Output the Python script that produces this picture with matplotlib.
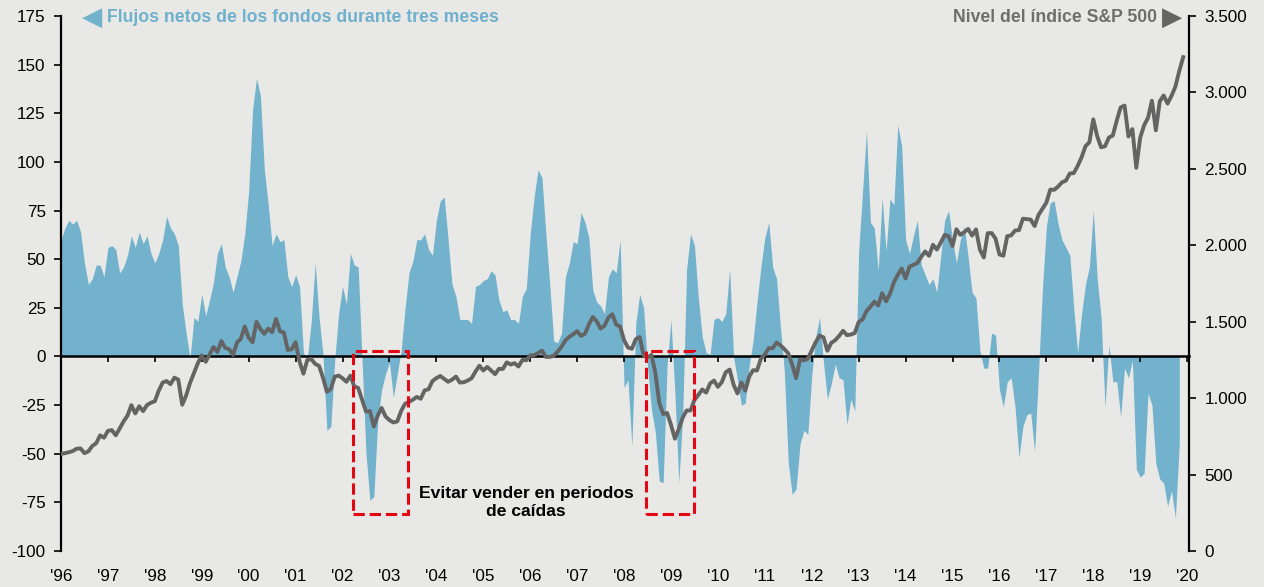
import matplotlib.pyplot as plt
from matplotlib.patches import Rectangle
from matplotlib.ticker import FuncFormatter
import numpy as np

plt.rcParams['font.family'] = ['Liberation Sans', 'DejaVu Sans']
plt.rcParams['axes.unicode_minus'] = False

# net fund flows over three months (left axis), monthly from Jan 1996 to Nov 2019
fund_flows = [
    60, 66, 70, 68, 70, 64, 48, 37, 40, 47, 47, 41,          # 1996
    56, 57, 55, 43, 46, 52, 62, 56, 64, 58, 62, 53,          # 1997
    48, 53, 60, 72, 66, 63, 57, 27, 12, -1, 20, 18,          # 1998
    32, 21, 29, 38, 53, 58, 46, 41, 33, 41, 49, 63,          # 1999
    85, 127, 143, 134, 96, 78, 57, 63, 59, 60, 41, 36,       # 2000
    42, 36, 2, -1, 18, 48, 20, 1, -38, -36, -2, 22,          # 2001
    36, 27, 53, 47, 46, -2, -50, -74, -72, -33, -17, -9,     # 2002
    -3, -21, -9, 3, 25, 43, 49, 60, 60, 63, 55, 52,          # 2003
    70, 80, 82, 60, 37, 31, 19, 19, 19, 17, 36, 37,          # 2004
    39, 40, 44, 42, 29, 23, 24, 19, 19, 17, 31, 35,          # 2005
    63, 82, 96, 92, 63, 37, 8, 7, 12, 41, 48, 59,            # 2006
    58, 74, 69, 61, 34, 28, 26, 22, 41, 45, 43, 60,          # 2007
    -16, -12, -46, 17, 32, 25, -5, -27, -39, -64, -65, -5,   # 2008
    19, -19, -65, -30, 45, 63, 57, 30, 10, 2, 1, 19,         # 2009
    20, 18, 22, 45, 0, -12, -25, -24, -5, 8, 28, 46,         # 2010
    61, 69, 46, 40, 15, -8, -55, -71, -68, -45, -38, -40,    # 2011
    -10, 10, 20, -3, -22, -14, -4, -11, -12, -35, -22, -28,  # 2012
    54, 85, 116, 69, 66, 44, 82, 54, 81, 78, 119, 108,       # 2013
    60, 53, 62, 70, 47, 42, 37, 40, 33, 52, 70, 75,          # 2014
    60, 48, 60, 67, 51, 33, 30, 3, -6, -6, 12, 11,           # 2015
    -17, -26, -13, -11, -26, -52, -36, -30, -29, -49, -8, 35,  # 2016
    67, 79, 80, 68, 60, 56, 52, 25, 2, 22, 37, 46,           # 2017
    75, 40, 20, -26, 6, -13, -13, -31, -6, -11, -2, -58,     # 2018
    -62, -60, -19, -25, -55, -63, -65, -77, -69, -83, -45,   # 2019
]

# S&P 500 index level (right axis), monthly close from Jan 1996 to Dec 2019
sp500 = [
    636, 640, 646, 654, 669, 671, 640, 652, 687, 705, 757, 741,            # 1996
    786, 791, 757, 801, 848, 885, 954, 900, 947, 915, 955, 970,            # 1997
    980, 1049, 1102, 1112, 1091, 1134, 1121, 957, 1017, 1099, 1164, 1229,  # 1998
    1280, 1238, 1286, 1335, 1302, 1373, 1329, 1320, 1283, 1363, 1389, 1469,  # 1999
    1395, 1366, 1499, 1452, 1421, 1455, 1431, 1518, 1437, 1429, 1315, 1320,  # 2000
    1366, 1240, 1160, 1250, 1256, 1224, 1211, 1134, 1041, 1060, 1140, 1148,  # 2001
    1130, 1107, 1147, 1077, 1067, 990, 912, 916, 815, 886, 936, 880,       # 2002
    856, 841, 848, 917, 964, 975, 990, 1008, 996, 1051, 1058, 1112,        # 2003
    1131, 1145, 1126, 1107, 1121, 1141, 1102, 1104, 1115, 1130, 1174, 1212,  # 2004
    1181, 1204, 1181, 1157, 1192, 1191, 1234, 1220, 1229, 1207, 1250, 1248,  # 2005
    1280, 1281, 1295, 1311, 1270, 1270, 1277, 1304, 1336, 1378, 1401, 1418,  # 2006
    1438, 1407, 1421, 1482, 1531, 1503, 1455, 1474, 1527, 1549, 1481, 1468,  # 2007
    1379, 1331, 1323, 1386, 1400, 1280, 1267, 1283, 1166, 969, 896, 903,   # 2008
    826, 735, 798, 873, 919, 919, 988, 1021, 1057, 1036, 1096, 1115,       # 2009
    1074, 1105, 1169, 1187, 1089, 1031, 1102, 1049, 1141, 1183, 1181, 1258,  # 2010
    1286, 1327, 1326, 1364, 1345, 1321, 1292, 1219, 1131, 1253, 1247, 1258,  # 2011
    1312, 1366, 1409, 1398, 1310, 1362, 1379, 1407, 1441, 1412, 1416, 1426,  # 2012
    1498, 1515, 1569, 1598, 1631, 1606, 1686, 1633, 1682, 1757, 1806, 1848,  # 2013
    1783, 1860, 1872, 1884, 1924, 1960, 1931, 2003, 1972, 2018, 2068, 2059,  # 2014
    1995, 2105, 2068, 2086, 2107, 2063, 2104, 1972, 1920, 2079, 2080, 2044,  # 2015
    1940, 1932, 2060, 2065, 2097, 2099, 2174, 2171, 2168, 2126, 2199, 2239,  # 2016
    2279, 2364, 2363, 2384, 2412, 2423, 2470, 2472, 2519, 2575, 2648, 2674,  # 2017
    2824, 2714, 2641, 2648, 2705, 2718, 2816, 2902, 2914, 2712, 2760, 2507,  # 2018
    2704, 2785, 2834, 2946, 2752, 2942, 2980, 2927, 2977, 3038, 3141, 3231,  # 2019
]

years = list(range(1996, 2021))
year_labels = ["'" + str(y)[2:] for y in years]
flow_ticks = list(range(-100, 176, 25))
sp_ticks = list(range(0, 3501, 500))

# periods to highlight (start, end) in decimal years
highlight = [(2002.23, 2003.40), (2008.47, 2009.50)]
box_bottom, box_top = -81, 2.6

t_flows = 1996 + np.arange(len(fund_flows)) / 12
t_sp = 1996 + np.arange(len(sp500)) / 12

bg = '#E8E8E6'
blue = '#73B2CC'
grey = '#646464'

fig = plt.figure(figsize=(12.64, 5.87), dpi=100, facecolor=bg)
ax = fig.add_axes([61 / 1264, 36 / 587, 1128 / 1264, 535 / 587])
ax.set_facecolor(bg)

ax.fill_between(t_flows, fund_flows, 0, color=blue, linewidth=0)
ax.set_xlim(1996, 2020.04)
ax.set_ylim(-100, 175)
ax.set_yticks(flow_ticks)

for s in ['top', 'right']:
    ax.spines[s].set_visible(False)
ax.spines['left'].set_linewidth(1.6)
ax.spines['bottom'].set_position(('data', 0))
ax.spines['bottom'].set_linewidth(1.8)
ax.set_xticks(years)
ax.tick_params(axis='x', direction='out', length=4, width=1.2, labelbottom=False)
ax.tick_params(axis='y', direction='out', length=5, width=1.2, labelsize=12.3, pad=6)

sec = ax.secondary_xaxis('bottom')
sec.set_xticks(years)
sec.set_xticklabels(year_labels)
sec.tick_params(length=0, labelsize=12.3, pad=13)
sec.spines['bottom'].set_visible(False)

ax2 = ax.twinx()
ax2.plot(t_sp, sp500, color=grey, linewidth=2.8, solid_joinstyle='round')
ax2.set_ylim(0, 3500)
ax2.set_yticks(sp_ticks)
ax2.yaxis.set_major_formatter(FuncFormatter(lambda v, p: f'{int(v):,}'.replace(',', '.')))
for s in ['top', 'left', 'bottom']:
    ax2.spines[s].set_visible(False)
ax2.spines['right'].set_linewidth(1.6)
ax2.tick_params(axis='y', direction='out', length=5, width=1.2, labelsize=12.3, pad=6)

for x0, x1 in highlight:
    ax2.add_patch(Rectangle((x0, box_bottom), x1 - x0, box_top - box_bottom,
                            transform=ax.transData, fill=False, edgecolor='#E30613',
                            linewidth=2.2, linestyle='--', zorder=5))

ax.text(2005.91, -75, 'Evitar vender en periodos\nde caídas', ha='center', va='center',
        multialignment='center', fontsize=12.6, fontweight='bold', linespacing=1.25)

# axis titles
ax.text(0.0186, 0.997, '◀', transform=ax.transAxes, color=blue, fontsize=19,
        ha='left', va='center', family=['DejaVu Sans'])
ax.text(0.0405, 0.997, 'Flujos netos de los fondos durante tres meses', transform=ax.transAxes,
        color='#6FB0CC', fontsize=12.7, fontweight='bold', ha='left', va='center')
ax.text(0.9938, 0.997, '▶', transform=ax.transAxes, color=grey, fontsize=19,
        ha='right', va='center', family=['DejaVu Sans'])
ax.text(0.9715, 0.997, 'Nivel del índice S&P 500', transform=ax.transAxes,
        color='#6E6E6E', fontsize=12.7, fontweight='bold', ha='right', va='center')

plt.savefig('out.png', dpi=100, facecolor=bg)
